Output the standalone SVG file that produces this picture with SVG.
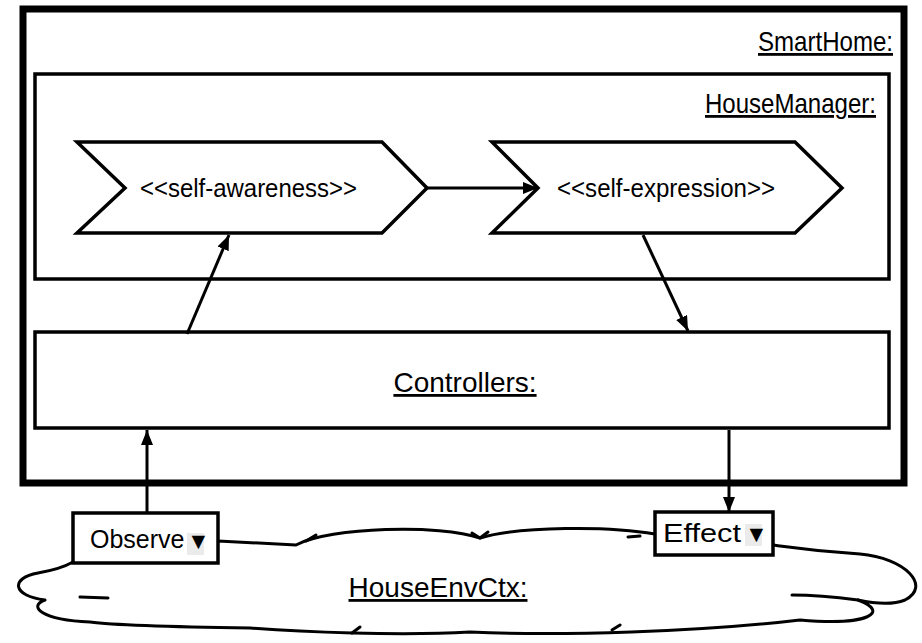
<svg xmlns="http://www.w3.org/2000/svg" width="922" height="643" viewBox="0 0 922 643">
  <style>
    .box { fill: #ffffff; stroke: #000000; stroke-width: 3.5; }
    .frame { fill: #ffffff; stroke: #000000; stroke-width: 7; }
    .chev { fill: #ffffff; stroke: #000000; stroke-width: 3.5; stroke-linejoin: miter; }
    .label { font-family: "Liberation Sans", Arial, sans-serif; font-size: 28px; fill: #000000; text-decoration: underline; }
    .stereo { font-family: "Liberation Sans", Arial, sans-serif; font-size: 25px; fill: #000000; }
    .port { font-family: "Liberation Sans", Arial, sans-serif; font-size: 25px; fill: #000000; }
    .tri { font-family: "Liberation Sans", "DejaVu Sans", sans-serif; font-size: 23px; fill: #000000; }
    .edge { fill: none; stroke: #000000; stroke-width: 3; }
    .cloud { fill: #ffffff; stroke: #000000; stroke-width: 3; stroke-linejoin: round; }
    .hook { fill: none; stroke: #000000; stroke-width: 3; stroke-linecap: round; }
  </style>
  <defs>
    <marker id="arrow" markerUnits="userSpaceOnUse" markerWidth="16" markerHeight="12" refX="15" refY="6" orient="auto">
      <path d="M0,0 L15,6 L0,12 z" fill="#000000"/>
    </marker>
  </defs>

  <!-- SmartHome container -->
  <g id="smarthome">
    <rect class="frame" x="23" y="9" width="881" height="474"/>
    <text class="label" x="758" y="51" textLength="135" lengthAdjust="spacingAndGlyphs">SmartHome:</text>
  </g>

  <!-- HouseManager component -->
  <g id="housemanager">
    <rect class="box" x="35" y="74" width="854" height="205"/>
    <text class="label" x="705" y="113" textLength="171" lengthAdjust="spacingAndGlyphs">HouseManager:</text>
  </g>

  <!-- Activity chevrons -->
  <g id="self-awareness">
    <polygon class="chev" points="77,142 382,142 427,188 382,233 77,233 125,188"/>
    <text class="stereo" x="140" y="197" textLength="217" lengthAdjust="spacingAndGlyphs">&lt;&lt;self-awareness&gt;&gt;</text>
  </g>
  <g id="self-expression">
    <polygon class="chev" points="492,142 795,142 842,188 795,233 492,233 538,188"/>
    <text class="stereo" x="557" y="197" textLength="218" lengthAdjust="spacingAndGlyphs">&lt;&lt;self-expression&gt;&gt;</text>
  </g>

  <!-- Controllers component -->
  <g id="controllers">
    <rect class="box" x="35" y="332" width="854" height="96"/>
    <text class="label" x="465" y="392" text-anchor="middle">Controllers:</text>
  </g>

  <!-- Environment context cloud -->
  <g id="houseenvctx">
    <path class="cloud" d="M218,541 L296,545 C330,527 440,524 480,538 C520,526 610,526 655,534 L773,545 C795,548 815,551 860,554 C905,558 932,586 905,600 C890,606 872,603 858,600 C890,612 870,626 800,620 C700,632 560,636 470,632 C400,636 300,632 250,628 C180,627 120,626 90,622 C40,620 28,606 45,600 C12,596 10,578 38,573 C55,570 66,566 73,562 Z"/>
    <path class="hook" d="M306,541 L316,535"/>
    <path class="hook" d="M472,533 L480,538 L488,532"/>
    <path class="hook" d="M628,537 L640,536"/>
    <path class="hook" d="M80,597 L108,598"/>
    <path class="hook" d="M858,600 C835,597 812,595 792,595"/>
    <path class="hook" d="M360,627 L352,633"/>
    <path class="hook" d="M612,630 L620,625"/>
    <text class="label" x="438" y="597" text-anchor="middle">HouseEnvCtx:</text>
  </g>

  <!-- Ports -->
  <g id="observe">
    <rect class="box" x="73" y="513" width="145" height="50"/>
    <rect x="187" y="533" width="17" height="22" fill="#ebebeb"/>
    <text class="port" x="90" y="548">Observe</text>
    <text class="tri" x="187" y="549">▼</text>
  </g>
  <g id="effect">
    <rect class="box" x="655" y="512" width="118" height="43"/>
    <rect x="745" y="524" width="17" height="22" fill="#ebebeb"/>
    <text class="port" x="663" y="542" textLength="78" lengthAdjust="spacingAndGlyphs">Effect</text>
    <text class="tri" x="745" y="542">▼</text>
  </g>

  <!-- Connectors -->
  <g id="connectors">
    <line class="edge" x1="427" y1="188" x2="538" y2="188" marker-end="url(#arrow)"/>
    <line class="edge" x1="187" y1="334" x2="229" y2="235" marker-end="url(#arrow)"/>
    <line class="edge" x1="643" y1="235" x2="688" y2="331" marker-end="url(#arrow)"/>
    <line class="edge" x1="147" y1="513" x2="147" y2="430" marker-end="url(#arrow)"/>
    <line class="edge" x1="729" y1="430" x2="729" y2="512" marker-end="url(#arrow)"/>
  </g>
</svg>
